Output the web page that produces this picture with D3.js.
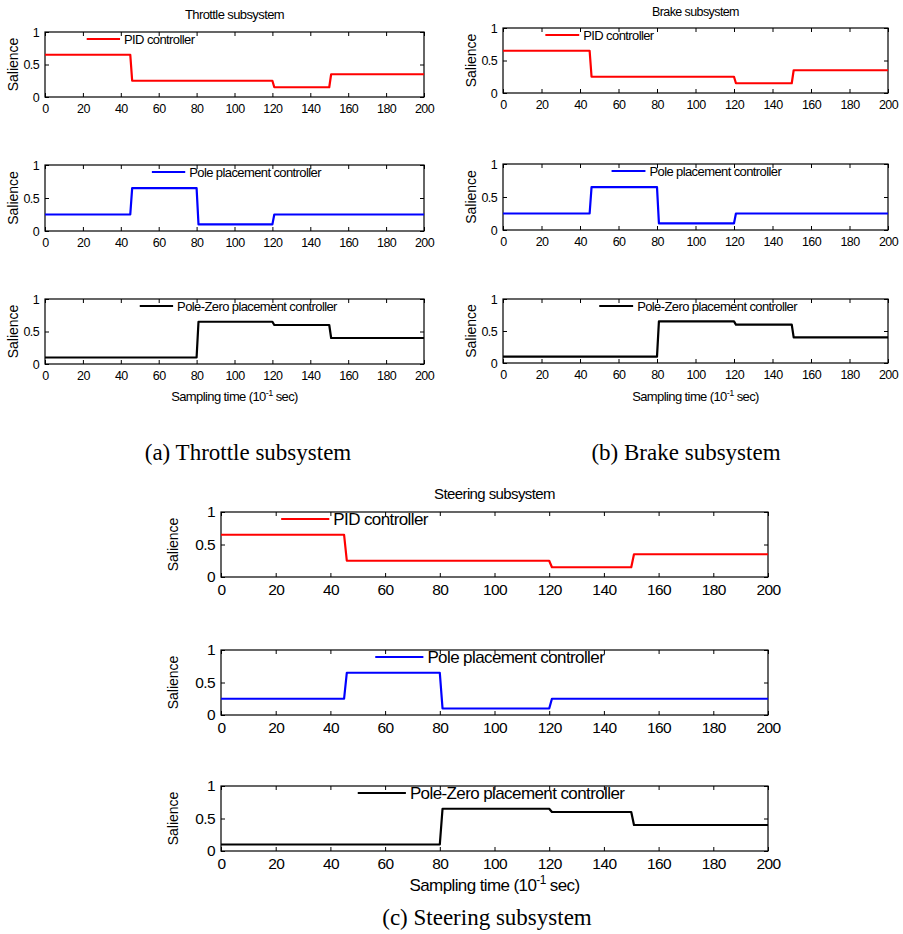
<!DOCTYPE html>
<html>
<head>
<meta charset="utf-8">
<script src="https://cdn.jsdelivr.net/npm/d3@7"></script>
<style>
  html, body { margin: 0; padding: 0; background: #fff; }
  svg { display: block; }
  .tick text, .lbl { font-family: "Liberation Sans", Arial, sans-serif; fill: #000; }
  .cap { font-family: "Liberation Serif", "Times New Roman", serif; fill: #000; }
</style>
</head>
<body>
<svg id="chart" width="903" height="934"></svg>
<script>
// Sample-time breakpoints and salience levels of each controller (step changes)
const pidTime  = [0, 45, 46, 120, 121, 150, 151, 200];
const pidSal   = [0.65, 0.65, 0.25, 0.25, 0.15, 0.15, 0.35, 0.35];
const poleTime = [0, 45, 46, 80, 81, 120, 121, 200];
const poleSal  = [0.25, 0.25, 0.65, 0.65, 0.10, 0.10, 0.25, 0.25];
const pzTime   = [0, 80, 81, 120, 121, 150, 151, 200];
const pzSal    = [0.10, 0.10, 0.65, 0.65, 0.60, 0.60, 0.40, 0.40];

const seriesNames  = ["PID controller", "Pole placement controller", "Pole-Zero placement controller"];
const seriesColors = ["#ff0000", "#0000ff", "#000000"];
const xTicks = [0, 20, 40, 60, 80, 100, 120, 140, 160, 180, 200];
const yTicks = [0, 0.5, 1];
const yTickLabels = ["0", "0.5", "1"];
const subsystemTitles = ["Throttle subsystem", "Brake subsystem", "Steering subsystem"];
const captions = ["(a) Throttle subsystem", "(b) Brake subsystem", "(c) Steering subsystem"];
const xLabel = "Sampling time (10";
const yLabel = "Salience";

const series = [
  pidTime.map((t, i) => ({ t, v: pidSal[i] })),
  poleTime.map((t, i) => ({ t, v: poleSal[i] })),
  pzTime.map((t, i) => ({ t, v: pzSal[i] }))
];

// Layout of the three figure groups
const groups = [
  { x0: 45,  x1: 424, rows: [[32, 97], [165, 231], [299, 364]], fs: 12.5, tfs: 13, lfs: 13, xfs: 13, yfs: 14,
    titleY: 19, yLabX: 18, xLabY: 401, capX: 248, capY: 460 },
  { x0: 503, x1: 888, rows: [[28, 93], [164, 230], [299, 363]], fs: 12.5, tfs: 12.5, lfs: 13, xfs: 13, yfs: 14,
    titleY: 16, yLabX: 476, xLabY: 401, capX: 686, capY: 460 },
  { x0: 221, x1: 768, rows: [[512, 577], [650, 715], [786, 851]], fs: 15.5, tfs: 15, lfs: 17, xfs: 17, yfs: 14,
    titleY: 499, yLabX: 178, xLabY: 891, capX: 487, capY: 925 }
];
const capFs = 23;
const legendStart = [0.11, 0.282, 0.25];

const svg = d3.select("#chart");

groups.forEach((g, gi) => {
  const x = d3.scaleLinear().domain([0, 200]).range([g.x0, g.x1]);
  const tickLen = 4;

  g.rows.forEach((r, si) => {
    const y = d3.scaleLinear().domain([0, 1]).range([r[1], r[0]]);
    const p = svg.append("g");

    // axis frame
    p.append("rect")
      .attr("x", g.x0).attr("y", r[0])
      .attr("width", g.x1 - g.x0).attr("height", r[1] - r[0])
      .attr("fill", "none").attr("stroke", "#000").attr("stroke-width", 1.2);

    // bottom axis with inward ticks
    const xb = p.append("g").attr("transform", `translate(0,${r[1]})`)
      .call(d3.axisBottom(x).tickValues(xTicks).tickSize(-tickLen).tickPadding(tickLen + 3).tickFormat(d3.format("d")));
    xb.select(".domain").remove();
    xb.selectAll(".tick line").attr("stroke", "#000");
    xb.selectAll(".tick text").style("font-size", g.fs + "px").style("letter-spacing", "-0.6px");

    // top ticks
    const xt = p.append("g").attr("transform", `translate(0,${r[0]})`)
      .call(d3.axisTop(x).tickValues(xTicks).tickSize(-tickLen).tickFormat(""));
    xt.select(".domain").remove();
    xt.selectAll(".tick line").attr("stroke", "#000");

    // left axis
    const yl = p.append("g").attr("transform", `translate(${g.x0},0)`)
      .call(d3.axisLeft(y).tickValues(yTicks).tickSize(-tickLen).tickPadding(tickLen + 2)
        .tickFormat((d, i) => yTickLabels[i]));
    yl.select(".domain").remove();
    yl.selectAll(".tick line").attr("stroke", "#000");
    yl.selectAll(".tick text").style("font-size", g.fs + "px").style("letter-spacing", "-0.6px");

    // right ticks
    const yr = p.append("g").attr("transform", `translate(${g.x1},0)`)
      .call(d3.axisRight(y).tickValues(yTicks).tickSize(-tickLen).tickFormat(""));
    yr.select(".domain").remove();
    yr.selectAll(".tick line").attr("stroke", "#000");

    // y label
    p.append("text").attr("class", "lbl")
      .attr("transform", `translate(${g.yLabX},${(r[0] + r[1]) / 2}) rotate(-90)`)
      .attr("text-anchor", "middle")
      .style("font-size", g.yfs + "px")
      .text(yLabel);

    // data line
    const line = d3.line().x(d => x(d.t)).y(d => y(d.v));
    p.append("path").datum(series[si])
      .attr("d", line)
      .attr("fill", "none")
      .attr("stroke", seriesColors[si])
      .attr("stroke-width", 2.2)
      .attr("stroke-linejoin", "round");

    // legend entry
    const w = g.x1 - g.x0;
    const lx = g.x0 + legendStart[si] * w;
    const ll = 0.088 * w;
    const ly = r[0] + 7;
    p.append("line")
      .attr("x1", lx).attr("x2", lx + ll).attr("y1", ly).attr("y2", ly)
      .attr("stroke", seriesColors[si]).attr("stroke-width", 2.2);
    p.append("text").attr("class", "lbl")
      .attr("x", lx + ll + 4).attr("y", ly + g.lfs * 0.36)
      .style("font-size", g.lfs + "px").style("letter-spacing", "-0.6px")
      .text(seriesNames[si]);

    // subsystem title above the first panel
    if (si === 0) {
      p.append("text").attr("class", "lbl")
        .attr("x", (g.x0 + g.x1) / 2).attr("y", g.titleY)
        .attr("text-anchor", "middle")
        .style("font-size", g.tfs + "px").style("letter-spacing", "-0.6px")
        .text(subsystemTitles[gi]);
    }

    // x label under the last panel
    if (si === 2) {
      const t = p.append("text").attr("class", "lbl")
        .attr("x", (g.x0 + g.x1) / 2).attr("y", g.xLabY)
        .attr("text-anchor", "middle")
        .style("font-size", g.xfs + "px").style("letter-spacing", "-0.6px");
      t.append("tspan").text(xLabel);
      t.append("tspan").attr("dy", -g.xfs * 0.4).style("font-size", (g.xfs * 0.7) + "px").text("-1");
      t.append("tspan").attr("dy", g.xfs * 0.4).text(" sec)");
    }
  });

  // figure caption
  svg.append("text").attr("class", "cap")
    .attr("x", g.capX).attr("y", g.capY)
    .attr("text-anchor", "middle")
    .style("font-size", capFs + "px")
    .text(captions[gi]);
});
</script>
</body>
</html>
